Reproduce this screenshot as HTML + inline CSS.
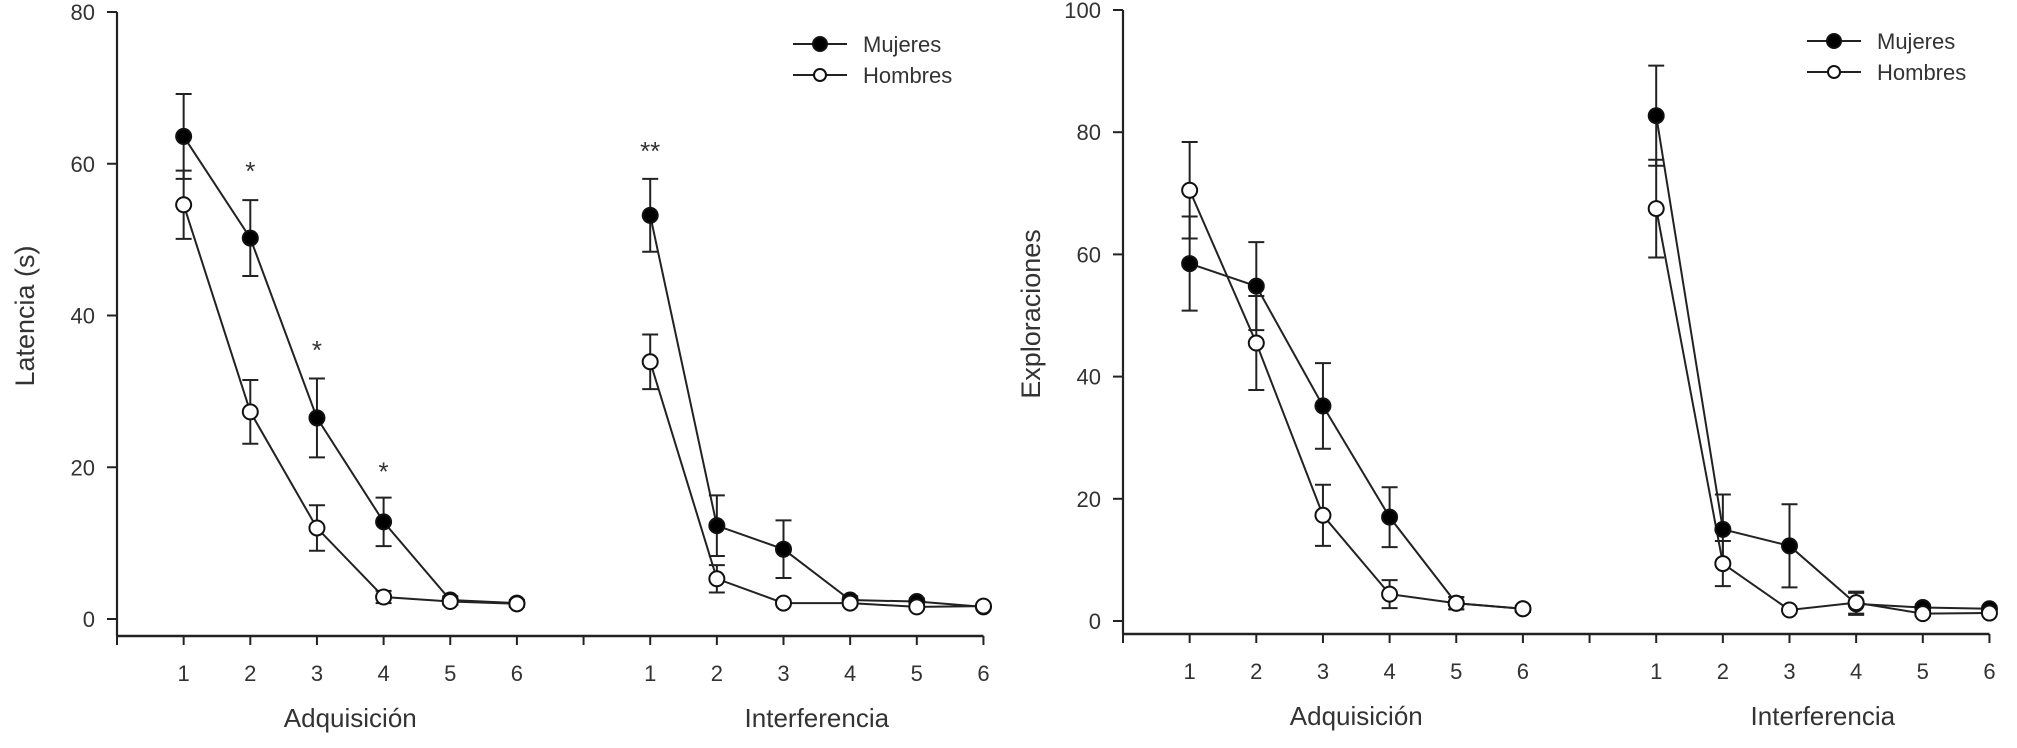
<!DOCTYPE html>
<html><head><meta charset="utf-8"><style>
html,body{margin:0;padding:0;background:#fff;}
svg{display:block;font-family:"Liberation Sans",sans-serif;}
</style></head><body>
<svg id="chart" width="2017" height="748" viewBox="0 0 2017 748"></svg>
<script>
// Panel A: Latencia (s)
const phases = ["Adquisición", "Interferencia"];
const trialLabels = ["1","2","3","4","5","6"];
const latMujAdq = [63.6, 50.2, 26.5, 12.8, 2.5, 2.1];
const latMujAdqErr = [5.6, 5.0, 5.2, 3.2, 0.5, 0.4];
const latHomAdq = [54.6, 27.3, 12.0, 2.9, 2.3, 2.0];
const latHomAdqErr = [4.5, 4.2, 3.0, 0.8, 0.4, 0.4];
const latMujInt = [53.2, 12.3, 9.2, 2.5, 2.3, 1.6];
const latMujIntErr = [4.8, 4.0, 3.8, 0.5, 0.4, 0.3];
const latHomInt = [33.9, 5.3, 2.1, 2.1, 1.6, 1.7];
const latHomIntErr = [3.6, 1.8, 0.3, 0.3, 0.3, 0.3];
const latTicks = [0, 20, 40, 60, 80];
const latStars = [["*",0,1,59.6],["*",0,2,36.0],["*",0,3,20.0],["**",1,0,62.2]];
// Panel B: Exploraciones
const expMujAdq = [58.5, 54.8, 35.2, 17.0, 2.9, 2.0];
const expMujAdqErr = [7.7, 7.2, 7.0, 4.9, 1.0, 0.5];
const expHomAdq = [70.5, 45.5, 17.3, 4.4, 2.9, 2.0];
const expHomAdqErr = [7.9, 7.7, 5.0, 2.3, 1.0, 0.5];
const expMujInt = [82.7, 15.0, 12.3, 2.8, 2.2, 2.0];
const expMujIntErr = [8.2, 5.7, 6.8, 1.8, 0.5, 0.4];
const expHomInt = [67.5, 9.4, 1.8, 3.0, 1.2, 1.3];
const expHomIntErr = [8.0, 3.7, 0.3, 1.8, 0.4, 0.3];
const expTicks = [0, 20, 40, 60, 80, 100];

const svg = document.getElementById('chart');
const NS = 'http://www.w3.org/2000/svg';
function mk(tag, attrs, parent, text){
  const e = document.createElementNS(NS, tag);
  for (const k in attrs) e.setAttribute(k, attrs[k]);
  if (text !== undefined) e.textContent = text;
  (parent || svg).appendChild(e);
  return e;
}

function panel(cfg){
  const g = mk('g', {});
  
  
  const step = 66.65;
  const xOf = (phase, i) => cfg.x0 + step * (phase * 7 + i + 1);
  const yOf = v => cfg.y0 - (v / cfg.max) * (cfg.y0 - cfg.yTop);
  const ink = '#222';
  const ya = mk('line', {x1:cfg.x0, y1:yOf(cfg.max), x2:cfg.x0, y2:cfg.axisY, stroke:ink, 'stroke-width':2.2}, g);
  
  
  cfg.ticks.forEach(t => {
    mk('line', {x1:cfg.x0-10, y1:yOf(t), x2:cfg.x0, y2:yOf(t), stroke:ink, 'stroke-width':2}, g);
    const tl = mk('text', {x:cfg.x0-22, y:yOf(t)+8, 'text-anchor':'end', 'font-size':22, fill:'#333'}, g, String(t));
    
    
  });
  const yt = mk('text', {x:0, y:0, 'text-anchor':'middle', 'font-size':27, fill:'#333', transform:`translate(${cfg.x0-83},${cfg.labelY}) rotate(-90)`}, g, cfg.ytitle);
  
  
  const xEnd = cfg.x0 + step * 13;
  const xa = mk('line', {x1:cfg.x0-1, y1:cfg.axisY, x2:xEnd, y2:cfg.axisY, stroke:ink, 'stroke-width':2.5}, g);
  
  
  for (let k = 0; k <= 13; k++) {
    const x = cfg.x0 + step * k;
    mk('line', {x1:x, y1:cfg.axisY, x2:x, y2:cfg.axisY+9, stroke:ink, 'stroke-width':2}, g);
  }
  phases.forEach((p, pi) => {
    trialLabels.forEach((lab, i) => {
      const tl = mk('text', {x:xOf(pi, i), y:cfg.axisY+45, 'text-anchor':'middle', 'font-size':22, fill:'#333'}, g, lab);
      
      
    });
    const pt = mk('text', {x:(xOf(pi,0)+xOf(pi,5))/2, y:cfg.axisY+91, 'text-anchor':'middle', 'font-size':26, fill:'#333'}, g, p);
    
    
  });
  cfg.series.forEach(s => {
    s.sets.forEach((vals, pi) => {
      const errs = s.errs[pi];
      const pts = vals.map((v, i) => `${xOf(pi,i)},${yOf(v)}`).join(' ');
      const pl = mk('polyline', {points:pts, fill:'none', stroke:ink, 'stroke-width':2}, g);
      
      
      vals.forEach((v, i) => {
        const x = xOf(pi, i), hi = yOf(v + errs[i]), lo = yOf(v - errs[i]);
        const eb = mk('path', {d:`M${x},${hi}V${lo}M${x-8},${hi}H${x+8}M${x-8},${lo}H${x+8}`, stroke:ink, 'stroke-width':2, fill:'none'}, g);
        
        
      });
    });
  });
  cfg.series.forEach(s => {
    s.sets.forEach((vals, pi) => {
      vals.forEach((v, i) => {
        const c = mk('circle', {cx:xOf(pi,i), cy:yOf(v), r:7.5, fill:s.fill, stroke:'#111', 'stroke-width':2}, g);
        
        
      });
    });
  });
  (cfg.stars || []).forEach(st => {
    const t = mk('text', {x:xOf(st[1], st[2]), y:yOf(st[3])+13, 'text-anchor':'middle', 'font-size':26, fill:'#333'}, g, st[0]);
    
    
  });
  const lg = mk('g', {}, g);
  
  
  [['Mujeres','#000',cfg.legY],['Hombres','#fff',cfg.legY+31]].forEach(e => {
    const le = mk('g', {}, lg);
    
    
    mk('line', {x1:cfg.legX-27, y1:e[2], x2:cfg.legX+27, y2:e[2], stroke:ink, 'stroke-width':2}, le);
    mk('circle', {cx:cfg.legX, cy:e[2], r:e[1]==='#000'?7:6, fill:e[1], stroke:'#111', 'stroke-width':2}, le);
    mk('text', {x:cfg.legX+43, y:e[2]+8, 'font-size':22, fill:'#333'}, le, e[0]);
  });
}

panel({name:'latency-chart', x0:117, y0:619, yTop:12, max:80, axisY:636, ticks:latTicks, ytitle:'Latencia (s)', labelY:316,
  legX:820, legY:44, stars:latStars,
  series:[
    {key:'mujeres', fill:'#000', sets:[latMujAdq, latMujInt], errs:[latMujAdqErr, latMujIntErr]},
    {key:'hombres', fill:'#fff', sets:[latHomAdq, latHomInt], errs:[latHomAdqErr, latHomIntErr]}
  ]});
panel({name:'explorations-chart', x0:1123, y0:621, yTop:10, max:100, axisY:634, ticks:expTicks, ytitle:'Exploraciones', labelY:314,
  legX:1834, legY:41,
  series:[
    {key:'mujeres', fill:'#000', sets:[expMujAdq, expMujInt], errs:[expMujAdqErr, expMujIntErr]},
    {key:'hombres', fill:'#fff', sets:[expHomAdq, expHomInt], errs:[expHomAdqErr, expHomIntErr]}
  ]});
</script>
</body></html>
